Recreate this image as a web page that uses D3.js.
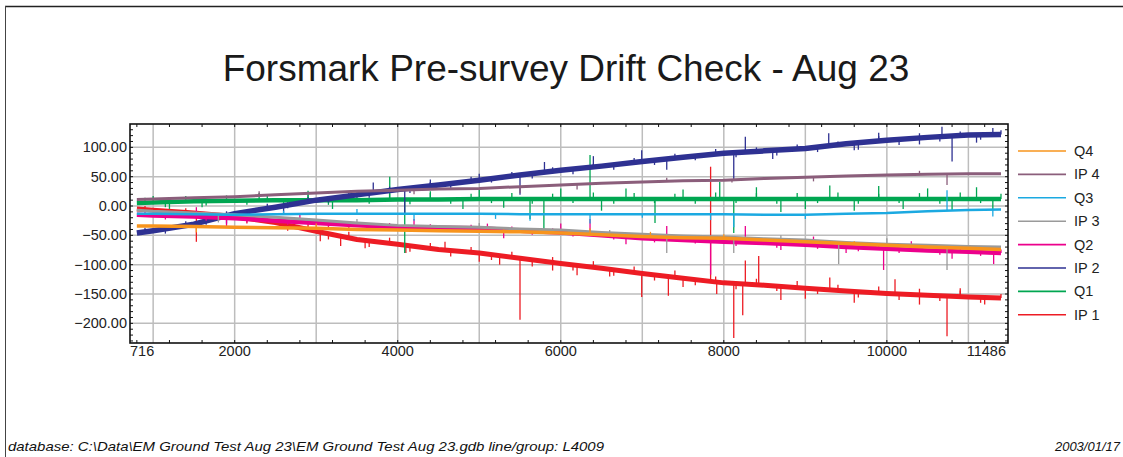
<!DOCTYPE html>
<html>
<head>
<meta charset="utf-8">
<script src="https://cdn.jsdelivr.net/npm/d3@7"></script>
<style>
  html, body { margin: 0; padding: 0; background: #fff; }
  svg { display: block; font-family: "Liberation Sans", Arial, sans-serif; }
</style>
</head>
<body>
<svg id="chart" width="1123" height="457"></svg>
<script>
// Drift readings (channel value vs. fiducial) for the pre-survey check.
const fiducials = [800, 1000, 1500, 2000, 2500, 3000, 3500, 4000, 4500, 5000, 5500, 6000,
                   6500, 7000, 7500, 8000, 8500, 9000, 9500, 10000, 10500, 11000, 11400];

const IP1 = [-5, -7, -12, -18, -28, -43, -57, -65, -74, -80, -89, -98,
             -106, -115, -123, -131, -135, -140, -145, -149, -152, -155, -157];
const Q1  = [5, 6, 8, 9, 10, 10, 10, 11, 11, 12, 12, 12,
             12, 12, 12, 12, 12, 12, 12, 12, 12, 12, 12];
const IP2 = [-46, -42, -31, -13, -2, 10, 19, 28, 36, 44, 53, 61,
             68, 76, 83, 90, 94, 98, 106, 112, 117, 121, 122];
const Q2  = [-15, -16, -18, -21, -25, -29, -33, -36, -37, -38, -42, -45,
             -50, -55, -58, -61, -63, -66, -70, -73, -76, -78, -80];
const IP3 = [-7, -9, -12, -15, -19, -24, -29, -33, -35, -36, -39, -41,
             -45, -48, -51, -53, -56, -58, -62, -65, -67, -69, -70];
const Q3  = [-13, -13, -14, -15, -14, -13, -13, -13, -13, -13, -14, -14,
             -14, -14, -14, -14, -15, -15, -13, -12, -9, -7, -6];
const IP4 = [11, 12, 14, 16, 19, 22, 25, 27, 29, 30, 33, 36,
             39, 41, 43, 44, 47, 49, 51, 53, 54, 55, 55];
const Q4  = [-34, -34, -35, -36, -37, -38, -40, -41, -42, -43, -44, -46,
             -49, -52, -54, -55, -58, -61, -64, -67, -70, -72, -74];

// Short noise excursions sampled along the record (shared fiducials)
const noiseFid = [900, 1150, 1400, 1650, 1900, 2150, 2400, 2650, 2900, 3150, 3400, 3650, 3900,
  4150, 4400, 4650, 4900, 5150, 5400, 5650, 5900, 6150, 6400, 6650, 6900, 7150, 7400, 7650,
  7900, 8150, 8400, 8650, 8900, 9150, 9400, 9650, 9900, 10150, 10400, 10650, 10900, 11150, 11400];
const IP2_noise = [-37, -47, -26, -32, -9, -16, 4, -4, 15, 6, 24, 14, 33, 22, 41, 31, 50, 40, 58,
  47, 66, 54, 72, 62, 82, 70, 89, 78, 97, 83, 100, 86, 105, 92, 110, 96, 119, 104, 124, 110, 127, 113, 129];
const IP1_noise = [0, -15, -4, -22, -10, -30, -18, -42, -30, -57, -44, -70, -54, -78, -63, -86, -70,
  -92, -78, -103, -87, -110, -94, -119, -103, -127, -110, -135, -120, -142, -124, -145, -128, -150,
  -134, -156, -137, -160, -141, -162, -144, -165, -150];
const Q1_noise = [14, -2, 17, 1, 18, 2, 19, 3, 20, 2, 19, 4, 21, 3, 22, 4, 21, 5, 22, 4, 21, 5, 23,
  4, 22, 5, 21, 4, 23, 5, 22, 4, 22, 5, 23, 4, 21, 5, 22, 4, 23, 5, 21];
const Q2_noise = [-10, -23, -12, -25, -14, -28, -18, -32, -22, -36, -26, -40, -29, -42, -31, -43,
  -32, -46, -35, -49, -38, -52, -43, -57, -48, -62, -51, -64, -55, -68, -57, -71, -60, -73, -63,
  -77, -66, -80, -69, -83, -72, -85, -74];

// Isolated spikes: [fiducial, peak value]
const IP1_spikes = [[1530, -61], [3050, -60], [3300, -68], [3600, -72], [4100, -80], [4580, -61],
  [5000, -95], [5250, -100], [5500, -194], [5900, -110], [6200, -118], [6600, -120], [6993, -155],
  [7320, -153], [7500, -138], [7838, 67], [7913, -150], [8122, -225], [8232, -186], [8264, -93],
  [8428, -85], [8700, -160], [9000, -158], [9300, -122], [9600, -165], [10100, -125], [10400, -168],
  [10738, -222], [10900, -140], [11200, -168]];
const Q1_spikes = [[1000, 17], [1200, -5], [1600, -2], [2300, 22], [2600, 0], [2900, 26], [3200, -5],
  [3500, 25], [3902, 50], [4086, -80], [4400, 25], [4800, -5], [5000, 28], [5300, -3], [5623, -22],
  [5793, -40], [6000, 30], [6359, 87], [6500, -8], [6800, 30], [7156, -29], [7500, 28], [7950, 41],
  [8122, -46], [8400, 32], [8700, -10], [9000, -5], [9300, 35], [9600, -8], [9900, 34], [10200, -5],
  [10500, 30], [10800, -8], [11100, 32], [11300, -5]];
const IP2_spikes = [[1900, -30], [2600, -15], [3700, 40], [4086, -12], [4400, 45], [5000, 55],
  [5500, 19], [5800, 75], [6400, 85], [6993, 95], [7300, 62], [8122, 44], [8264, 118], [8600, 80],
  [9287, 124], [9600, 95], [9900, 125], [10400, 105], [10676, 135], [10800, 76], [11100, 108], [11300, 133]];
const Q2_spikes = [[1530, -2], [1900, -35], [2800, -15], [3400, -42], [4200, -22], [5100, -30],
  [5300, -55], [6000, -30], [6359, -22], [6800, -65], [7300, -34], [7838, -117], [8264, -34],
  [8700, -75], [9100, -52], [9500, -80], [9960, -109], [10300, -60], [10800, -90], [11310, -99]];
const IP3_spikes = [[1800, -28], [3500, -22], [5000, -29], [6600, -41], [7300, -80], [8122, -80],
  [8700, -50], [9409, -99], [10000, -55], [10738, -109]];
const Q3_spikes = [[2600, -8], [3500, -5], [4200, -25], [5200, -22], [5623, -25], [6359, -30],
  [7000, -20], [7838, -24], [8122, -36], [9000, -22], [10738, 27], [11300, -18]];
const IP4_spikes = [[2300, 25], [4200, 20], [5500, 22], [6200, 28], [7300, 48], [8100, 40],
  [9100, 42], [10400, 60], [10738, 36]];
const Q4_spikes = [[1530, -45], [3000, -30], [5300, -40], [6359, -38], [7100, -44], [8000, -48], [9600, -60]];

const xTickLabels = [716, 2000, 4000, 6000, 8000, 10000, 11486];
const yTickLabels = [100, 50, 0, -50, -100, -150, -200];

const titleText = "Forsmark Pre-survey Drift Check - Aug 23";
const footerLeft = "database: C:\\Data\\EM Ground Test Aug 23\\EM Ground Test Aug 23.gdb  line/group: L4009";
const footerRight = "2003/01/17";

// Legend order (top to bottom); drawing order is the reverse.
const series = [
  { name: "Q4",   values: Q4,  spikes: Q4_spikes,  noise: [],        color: "#f7941d", width: 3.5 },
  { name: "IP 4", values: IP4, spikes: IP4_spikes, noise: [],        color: "#8b5e7b", width: 3 },
  { name: "Q3",   values: Q3,  spikes: Q3_spikes,  noise: [],        color: "#1ba9e1", width: 2.5 },
  { name: "IP 3", values: IP3, spikes: IP3_spikes, noise: [],        color: "#9a9a9a", width: 3 },
  { name: "Q2",   values: Q2,  spikes: Q2_spikes,  noise: Q2_noise,  color: "#ec008c", width: 4.5 },
  { name: "IP 2", values: IP2, spikes: IP2_spikes, noise: IP2_noise, color: "#2e3192", width: 5.5 },
  { name: "Q1",   values: Q1,  spikes: Q1_spikes,  noise: Q1_noise,  color: "#00a651", width: 4.5 },
  { name: "IP 1", values: IP1, spikes: IP1_spikes, noise: IP1_noise, color: "#ed1c24", width: 5 }
];

const svg = d3.select("#chart");
const plot = { left: 130, right: 1008, top: 124, bottom: 343 };

const x = d3.scaleLinear().domain([716, 11486]).range([plot.left, plot.right]);
const y = d3.scaleLinear().domain([-233.5, 139.8]).range([plot.bottom, plot.top]);

// Page frame
svg.append("line").attr("x1", 5).attr("x2", 1123).attr("y1", 6.5).attr("y2", 6.5)
  .attr("stroke", "#222").attr("stroke-width", 1.6);
svg.append("line").attr("x1", 5.5).attr("x2", 5.5).attr("y1", 6).attr("y2", 457)
  .attr("stroke", "#444").attr("stroke-width", 1);

// Title
svg.append("text").attr("x", 566).attr("y", 81).attr("text-anchor", "middle")
  .attr("font-size", 37).attr("fill", "#1a1a1a").text(titleText);

// Grid
const grid = svg.append("g").attr("stroke", "#bdbdbd").attr("stroke-width", 1.5);
grid.selectAll(".vg").data(d3.range(1000, 11486, 1000)).join("line")
  .attr("x1", d => x(d)).attr("x2", d => x(d)).attr("y1", plot.top).attr("y2", plot.bottom);
grid.selectAll(".hg").data(d3.range(-200, 101, 50)).join("line")
  .attr("x1", plot.left).attr("x2", plot.right).attr("y1", d => y(d)).attr("y2", d => y(d));

// Series
svg.append("clipPath").attr("id", "plotclip").append("rect")
  .attr("x", plot.left).attr("y", plot.top).attr("width", plot.right - plot.left).attr("height", plot.bottom - plot.top);
const dataLayer = svg.append("g").attr("clip-path", "url(#plotclip)");
const line = d3.line().x(d => x(d[0])).y(d => y(d[1]));

series.slice().reverse().forEach(s => {
  const pts = fiducials.map((f, i) => [f, s.values[i]]);
  const base = d3.scaleLinear().domain(fiducials).range(s.values);
  const noisePts = s.noise.map((v, i) => [noiseFid[i], v]);
  const g = dataLayer.append("g");
  g.append("path").datum(pts).attr("d", line).attr("fill", "none")
    .attr("stroke", s.color).attr("stroke-width", s.width).attr("stroke-linejoin", "round");
  g.selectAll("line").data(noisePts.concat(s.spikes)).join("line")
    .attr("x1", d => x(d[0])).attr("x2", d => x(d[0]))
    .attr("y1", d => y(base(d[0]))).attr("y2", d => y(d[1]))
    .attr("stroke", s.color).attr("stroke-width", 1.3);
});

// Axes frame with inward ticks
const axisG = svg.append("g").attr("stroke", "#111");
axisG.append("rect").attr("x", plot.left).attr("y", plot.top)
  .attr("width", plot.right - plot.left).attr("height", plot.bottom - plot.top)
  .attr("fill", "none").attr("stroke-width", 1.6);

const xMinor = d3.range(800, 11486, 400);
axisG.selectAll(".xb").data(xMinor).join("line")
  .attr("x1", d => x(d)).attr("x2", d => x(d)).attr("y1", plot.bottom).attr("y2", plot.bottom - 3)
  .attr("stroke-width", 1);
axisG.selectAll(".xt").data(xMinor).join("line")
  .attr("x1", d => x(d)).attr("x2", d => x(d)).attr("y1", plot.top).attr("y2", plot.top + 3)
  .attr("stroke-width", 1);
const yMinor = d3.range(-230, 140, 10);
axisG.selectAll(".yl").data(yMinor).join("line")
  .attr("x1", plot.left).attr("x2", plot.left + 3).attr("y1", d => y(d)).attr("y2", d => y(d))
  .attr("stroke-width", 1);
axisG.selectAll(".yr").data(yMinor).join("line")
  .attr("x1", plot.right).attr("x2", plot.right - 3).attr("y1", d => y(d)).attr("y2", d => y(d))
  .attr("stroke-width", 1);

// Tick labels
const fmtY = d3.format(".2f");
svg.append("g").selectAll("text").data(yTickLabels).join("text")
  .attr("x", plot.left - 3).attr("y", d => y(d) + 5).attr("text-anchor", "end")
  .attr("font-size", 14.5).attr("fill", "#222").text(d => fmtY(d));

svg.append("g").selectAll("text").data(xTickLabels).join("text")
  .attr("x", (d, i) => i === 0 ? plot.left : i === xTickLabels.length - 1 ? plot.right - 2 : x(d))
  .attr("y", 356)
  .attr("text-anchor", (d, i) => i === 0 ? "start" : i === xTickLabels.length - 1 ? "end" : "middle")
  .attr("font-size", 14.5).attr("fill", "#222").text(d => d);

// Legend
const legend = svg.append("g");
series.forEach((s, i) => {
  const ly = 151 + i * 23.4;
  legend.append("line").attr("x1", 1018).attr("x2", 1066).attr("y1", ly).attr("y2", ly)
    .attr("stroke", s.color).attr("stroke-width", 1.6);
  legend.append("text").attr("x", 1074).attr("y", ly + 5).attr("font-size", 14.5)
    .attr("fill", "#222").text(s.name);
});

// Footer
svg.append("text").attr("x", 8).attr("y", 451).attr("font-size", 13).attr("font-style", "italic")
  .attr("textLength", 596).attr("lengthAdjust", "spacingAndGlyphs")
  .attr("fill", "#111").text(footerLeft);
svg.append("text").attr("x", 1120).attr("y", 451).attr("text-anchor", "end").attr("font-size", 13)
  .attr("font-style", "italic").attr("fill", "#111").text(footerRight);
</script>
</body>
</html>
